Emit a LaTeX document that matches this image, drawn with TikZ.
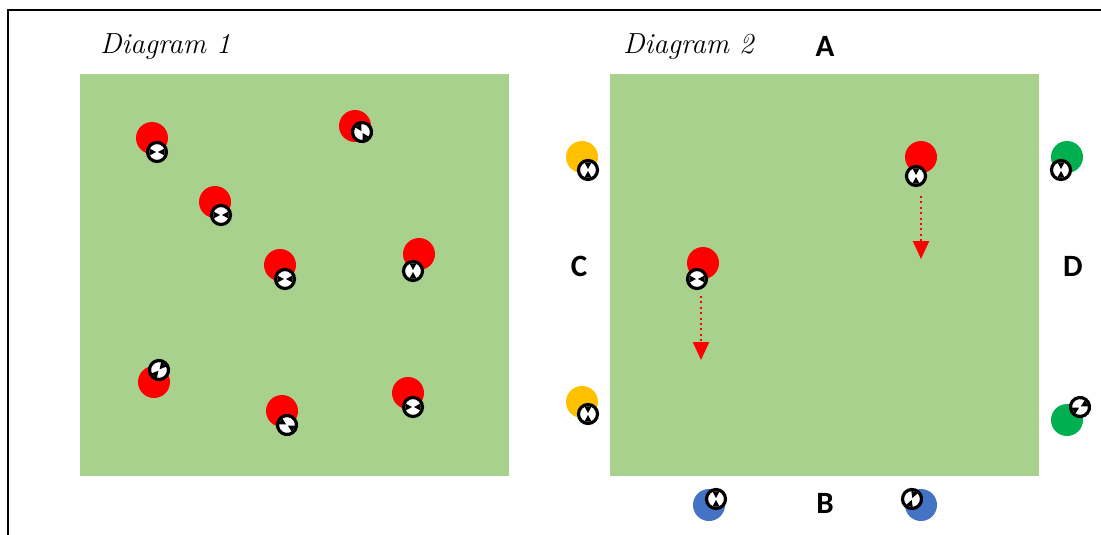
\documentclass[tikz,border=0pt]{standalone}
\usepackage{fontspec}
\newfontfamily\calib{Carlito}
\usetikzlibrary{arrows.meta}

\definecolor{pitchgreen}{HTML}{A9D18E}
\definecolor{teamred}{HTML}{FF0000}
\definecolor{teamyellow}{HTML}{FFC000}
\definecolor{teamgreen}{HTML}{00B050}
\definecolor{teamblue}{HTML}{4472C4}

\tikzset{
  pitch/.style={fill=pitchgreen},
  side/.style={font=\calib\bfseries\fontsize{31}{31}\selectfont, inner sep=0pt},
  title/.style={font=\itshape\fontsize{29}{29}\selectfont, anchor=base west, inner sep=0pt},
  run/.style={teamred, line width=2.2, dash pattern=on 2pt off 3.4pt,
              -{Triangle[width=16,length=18]}},
}

% player: colour, body centre, head centre, head rotation
\newcommand{\playerdot}[4]{%
  \fill[#1] #2 circle (16);
  \begin{scope}[shift={#3}, rotate=#4]
    \filldraw[fill=white, draw=black, line width=3.2] (0,0) circle (9.5);
    \fill (0,-1) -- (-3.6,-7.6) -- (3.6,-7.6) -- cycle;
    \fill (0,1) -- (-3.6,7.6) -- (3.6,7.6) -- cycle;
  \end{scope}
}

\begin{document}
\begin{tikzpicture}[x=1pt, y=-1pt]
  \useasboundingbox (0,0) rectangle (1101,535);

  % ── frame ──────────────────────────────────────────────
  \draw[line width=2] (8,535) -- (8,10) -- (1101,10);

  % ── pitches ────────────────────────────────────────────
  \fill[pitch] (80,74) rectangle (509,476);
  \fill[pitch] (610,74) rectangle (1039,476);
  \node[title] (t1) at (100,54) {Diagram 1};
  \node[title] (t2) at (623,54) {Diagram 2};

  % ── Diagram 1: reds spread out ─────────────────────────
  \playerdot{teamred}{(152,138)}{(157,152)}{90}
  \playerdot{teamred}{(355,126)}{(362,132)}{30}
  \playerdot{teamred}{(215,202)}{(221,215)}{90}
  \playerdot{teamred}{(280,265)}{(285,279)}{90}
  \playerdot{teamred}{(419,254)}{(413,271)}{0}
  \playerdot{teamred}{(154,382)}{(159,370)}{-40}
  \playerdot{teamred}{(282,411)}{(287,425)}{60}
  \playerdot{teamred}{(408,393)}{(413,407)}{90}

  % ── Diagram 2: side players ────────────────────────────
  \playerdot{teamyellow}{(582,157)}{(588,170)}{0}
  \playerdot{teamyellow}{(582,402)}{(588,414)}{0}
  \playerdot{teamgreen}{(1067,157)}{(1061,170)}{0}
  \playerdot{teamgreen}{(1067,420)}{(1080,407)}{-60}
  \playerdot{teamblue}{(709,505)}{(716,499)}{180}
  \playerdot{teamblue}{(921,505)}{(912,499)}{160}

  % ── Diagram 2: reds and their runs ─────────────────────
  \playerdot{teamred}{(921,157)}{(916,176)}{0}
  \playerdot{teamred}{(703,263)}{(697,279)}{90}
  \coordinate (runA) at (921,196);
  \coordinate (runA end) at (921,259);
  \coordinate (runB) at (701,296);
  \coordinate (runB end) at (701,360);
  \draw[run] (runA) -- (runA end);
  \draw[run] (runB) -- (runB end);

  % ── side labels ────────────────────────────────────────
  \node[side] (sA) at (825,46) {A};
  \node[side] (sB) at (825,503) {B};
  \node[side] (sC) at (579,266) {C};
  \node[side] (sD) at (1073,266) {D};

\end{tikzpicture}
\end{document}
